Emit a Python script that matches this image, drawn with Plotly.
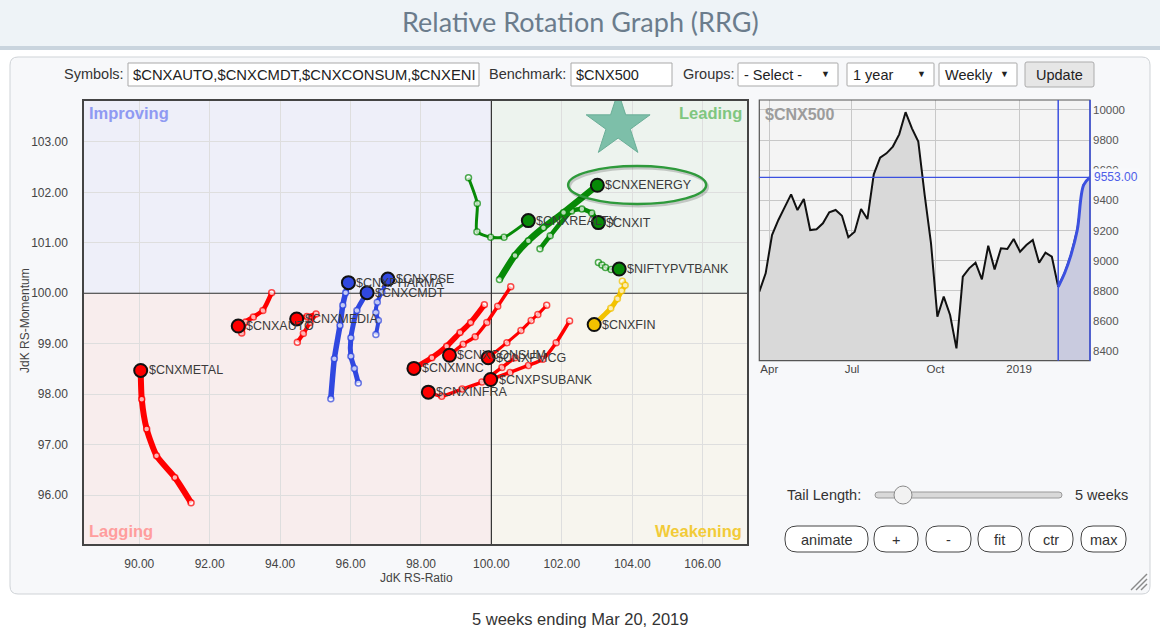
import plotly.graph_objects as go
import pandas as pd

W, H = 1160, 636
FONT = "Liberation Sans, Arial, sans-serif"

# ---------------- RRG data (oldest -> latest) ----------------
METAL_X = [91.47, 91.01, 90.49, 90.21, 90.07, 90.04]
METAL_Y = [95.85, 96.35, 96.78, 97.31, 97.90, 98.47]
AUTO_X = [93.76, 93.51, 93.24, 93.02, 92.91, 92.81]
AUTO_Y = [100.01, 99.66, 99.53, 99.43, 99.21, 99.35]
MEDIA_X = [94.49, 94.66, 94.85, 95.02, 94.76, 94.47]
MEDIA_Y = [99.03, 99.20, 99.42, 99.59, 99.54, 99.49]
PHARMA_X = [95.44, 95.54, 95.70, 95.78, 95.86, 95.94]
PHARMA_Y = [97.91, 98.70, 99.36, 99.76, 100.01, 100.21]
CMDT_X = [96.22, 96.11, 96.01, 96.01, 96.18, 96.47]
CMDT_Y = [98.22, 98.51, 98.75, 99.12, 99.66, 100.01]
PSE_X = [96.72, 96.79, 96.72, 96.76, 96.89, 97.06]
PSE_Y = [99.18, 99.46, 99.62, 99.82, 100.02, 100.28]
MNC_X = [99.80, 99.41, 99.11, 98.73, 98.31, 97.80]
MNC_Y = [99.77, 99.42, 99.22, 98.95, 98.72, 98.51]
CONSUM_X = [100.55, 100.18, 99.87, 99.54, 99.20, 98.81]
CONSUM_Y = [100.13, 99.74, 99.42, 99.14, 98.99, 98.77]
FMCG_X = [101.57, 101.32, 101.13, 100.84, 100.44, 99.91]
FMCG_Y = [99.76, 99.58, 99.46, 99.26, 99.02, 98.72]
PSUBANK_X = [102.22, 101.84, 101.46, 101.05, 100.53, 99.98]
PSUBANK_Y = [99.45, 99.02, 98.69, 98.57, 98.43, 98.29]
INFRA_X = [100.67, 100.30, 99.73, 99.17, 98.59, 98.21]
INFRA_Y = [98.72, 98.53, 98.24, 98.10, 97.96, 98.04]
ENERGY_X = [100.23, 100.67, 101.05, 101.48, 102.05, 103.01]
ENERGY_Y = [100.27, 100.75, 101.04, 101.30, 101.60, 102.14]
IT_X = [101.38, 101.67, 102.28, 102.57, 102.85, 103.04]
IT_Y = [100.88, 101.14, 101.63, 101.67, 101.59, 101.40]
REALTY_X = [99.35, 99.60, 99.59, 99.98, 100.36, 101.05]
REALTY_Y = [102.29, 101.78, 101.22, 101.11, 101.11, 101.44]
PVTBANK_X = [103.04, 103.14, 103.24, 103.40, 103.54, 103.63]
PVTBANK_Y = [100.61, 100.56, 100.51, 100.47, 100.47, 100.48]
FIN_X = [103.72, 103.80, 103.70, 103.58, 103.39, 102.92]
FIN_Y = [100.24, 100.16, 100.05, 99.89, 99.70, 99.38]

RED, BLUE, GREEN, YELLOW = "#ff0000", "#3048e0", "#078a07", "#f2c200"

SERIES = [
    ("$CNXMETAL", METAL_X, METAL_Y, RED, 6),
    ("$CNXAUTO", AUTO_X, AUTO_Y, RED, 4.5),
    ("$CNXMEDIA", MEDIA_X, MEDIA_Y, RED, 4),
    ("$CNXMNC", MNC_X, MNC_Y, RED, 5.5),
    ("$CNXCONSUM", CONSUM_X, CONSUM_Y, RED, 3.5),
    ("$CNXFMCG", FMCG_X, FMCG_Y, RED, 3),
    ("$CNXPSUBANK", PSUBANK_X, PSUBANK_Y, RED, 3.5),
    ("$CNXINFRA", INFRA_X, INFRA_Y, RED, 3.5),
    ("$CNXPHARMA", PHARMA_X, PHARMA_Y, BLUE, 5.5),
    ("$CNXCMDT", CMDT_X, CMDT_Y, BLUE, 5),
    ("$CNXPSE", PSE_X, PSE_Y, BLUE, 4),
    ("$CNXREALTY", REALTY_X, REALTY_Y, GREEN, 3),
    ("$CNXIT", IT_X, IT_Y, GREEN, 4.5),
    ("$CNXENERGY", ENERGY_X, ENERGY_Y, GREEN, 6.5),
    ("$NIFTYPVTBANK", PVTBANK_X, PVTBANK_Y, GREEN, 2.5),
    ("$CNXFIN", FIN_X, FIN_Y, YELLOW, 5),
]

# ---------------- Benchmark ($CNX500) weekly closes ----------------
CNX500 = [8794, 8916, 9170, 9270, 9355, 9440, 9336, 9409, 9203, 9208, 9248,
          9321, 9336, 9298, 9155, 9192, 9343, 9276, 9573, 9684, 9712, 9757,
          9838, 9985, 9878, 9790, 9436, 9115, 8628, 8761, 8639, 8418, 8894,
          8949, 8986, 8876, 9099, 8942, 9082, 9077, 9144, 9059, 9104, 9137,
          8986, 9053, 9026, 8827, 8916, 9037, 9203, 9502, 9553]
END_DATE = "2019-03-20"
TAIL_WEEKS = 5
MINI_TICKVALS = ["2018-04-01", "2018-07-01", "2018-10-01", "2019-01-01"]
MINI_TICKTEXT = ["Apr", "Jul", "Oct", "2019"]
MINI_YTICKS = [8400, 8600, 8800, 9000, 9200, 9400, 9600, 9800, 10000]

DATES = pd.date_range(end=END_DATE, periods=len(CNX500), freq="7D")

# ---------------- helpers (pixel -> paper) ----------------
def px(x):
    return x / W

def py(y):
    return 1 - y / H

def rrect(x0, y0, x1, y1, r):
    return (f"M {px(x0 + r)},{py(y0)} L {px(x1 - r)},{py(y0)} "
            f"Q {px(x1)},{py(y0)} {px(x1)},{py(y0 + r)} L {px(x1)},{py(y1 - r)} "
            f"Q {px(x1)},{py(y1)} {px(x1 - r)},{py(y1)} L {px(x0 + r)},{py(y1)} "
            f"Q {px(x0)},{py(y1)} {px(x0)},{py(y1 - r)} L {px(x0)},{py(y0 + r)} "
            f"Q {px(x0)},{py(y0)} {px(x0 + r)},{py(y0)} Z")

shapes = []
annots = []

def box(x0, y0, x1, y1, r, fill, line, lw=1, layer="below"):
    shapes.append(dict(type="path", path=rrect(x0, y0, x1, y1, r), xref="paper",
                       yref="paper", fillcolor=fill, line=dict(color=line, width=lw),
                       layer=layer))

def text(x, y, s, size=14, color="#333", xanchor="left", family=FONT, **kw):
    annots.append(dict(x=px(x), y=py(y), xref="paper", yref="paper", text=s,
                       showarrow=False, xanchor=xanchor, yanchor="middle",
                       font=dict(size=size, color=color, family=family), **kw))

# ---------------- page chrome ----------------
shapes.append(dict(type="rect", xref="paper", yref="paper", x0=0, x1=1,
                   y0=py(46), y1=1, fillcolor="#eef3f7", line=dict(width=0), layer="below"))
shapes.append(dict(type="rect", xref="paper", yref="paper", x0=0, x1=1,
                   y0=py(50), y1=py(46), fillcolor="#c9d4de", line=dict(width=0), layer="below"))
box(10, 57, 1150, 594, 8, "#f7f8fa", "#cfd3d7")
text(580, 22, "Relative Rotation Graph (RRG)", size=27, color="#6b7c8c",
     xanchor="center", family="Lato, Liberation Sans, sans-serif")
text(580, 619, "5 weeks ending Mar 20, 2019", size=16.5, color="#333", xanchor="center")

# controls row
text(62, 74, "Symbols:", size=14.5)
box(128, 63, 479, 86, 0, "#ffffff", "#a9a9a9")
text(131, 74.5, "$CNXAUTO,$CNXCMDT,$CNXCONSUM,$CNXENI", size=14.8, color="#222")
text(487, 74, "Benchmark:", size=14.5)
box(571, 63, 672, 86, 0, "#ffffff", "#a9a9a9")
text(574, 74.5, "$CNX500", size=14.5, color="#222")
text(681, 74, "Groups:", size=14.5)
for (x0, x1, lbl) in [(738, 838, "- Select -"), (847, 934, "1 year"), (939, 1017, "Weekly")]:
    box(x0, 63, x1, 86, 1, "#ffffff", "#a9a9a9")
    text(x0 + 4, 74.5, lbl, size=14.5, color="#222")
    text(x1 - 6, 73.5, "▼", size=9, color="#222", xanchor="right")
box(1025, 62, 1094, 87, 2, "#e6e6e6", "#acacac")
text(1059.5, 74.5, "Update", size=14.5, color="#222", xanchor="center")

# bottom-right controls
text(785, 495, "Tail Length:", size=14.5, color="#333")
box(875, 492, 1062, 498, 3, "#d9d9d9", "#9a9a9a")
shapes.append(dict(type="circle", xref="paper", yref="paper", x0=px(894), x1=px(912),
                   y0=py(504), y1=py(486), fillcolor="#f2f2f2",
                   line=dict(color="#8a8a8a", width=1), layer="above"))
text(1073, 495, "5 weeks", size=14.5, color="#333")
for (x0, x1, lbl) in [(785, 868, "animate"), (874, 918, "+"), (926, 971, "-"),
                      (978, 1022, "fit"), (1029, 1073, "ctr"), (1081, 1126, "max")]:
    box(x0, 526, x1, 552, 12, "#ffffff", "#444444", 1, layer="above")
    text((x0 + x1) / 2, 539.5, lbl, size=14.5, color="#333", xanchor="center")
for k in (0, 5, 10):
    shapes.append(dict(type="line", xref="paper", yref="paper", x0=px(1131 + k), y0=py(590),
                       x1=px(1147), y1=py(574 + k), line=dict(color="#8a8a8a", width=1.5)))

# ---------------- RRG plot ----------------
XR = [88.43, 107.26]
YR = [95.03, 103.81]
quads = [
    (XR[0], 100, 100, YR[1], "#eeeff9"),
    (100, XR[1], 100, YR[1], "#edf3ee"),
    (XR[0], 100, YR[0], 100, "#f8eded"),
    (100, XR[1], YR[0], 100, "#f7f5ee"),
]
for (x0, x1, y0, y1, c) in quads:
    shapes.append(dict(type="rect", xref="x", yref="y", x0=x0, x1=x1, y0=y0, y1=y1,
                       fillcolor=c, line=dict(width=0), layer="below"))
shapes.append(dict(type="line", xref="x", yref="y", x0=100, x1=100, y0=YR[0], y1=YR[1],
                   line=dict(color="#333", width=1.2), layer="between"))
shapes.append(dict(type="line", xref="x", yref="y", x0=XR[0], x1=XR[1], y0=100, y1=100,
                   line=dict(color="#333", width=1.2), layer="between"))

QLAB = dict(size=16.5, family=FONT)
for (xx, yy, s, c, xa, ya) in [(0.004, 0.997, "Improving", "#8f9af2", "left", "top"),
                               (0.996, 0.997, "Leading", "#80c680", "right", "top"),
                               (0.004, 0.005, "Lagging", "#ff9d9d", "left", "bottom"),
                               (0.996, 0.005, "Weakening", "#f2cb38", "right", "bottom")]:
    annots.append(dict(x=xx, y=yy, xref="x domain", yref="y domain", text=f"<b>{s}</b>",
                       showarrow=False, xanchor=xa, yanchor=ya,
                       font=dict(color=c, **QLAB)))

fig = go.Figure()

# star
fig.add_trace(go.Scatter(x=[103.6], y=[103.33], mode="markers", hoverinfo="skip",
                         marker=dict(symbol="star", size=48, color="#7dbfa9",
                                     line=dict(color="#6aae97", width=1)),
                         xaxis="x", yaxis="y", showlegend=False))

for (name, xs, ys, col, lw) in SERIES:
    fig.add_trace(go.Scatter(
        x=xs, y=ys, mode="lines+markers", hoverinfo="skip", showlegend=False,
        line=dict(color=col, width=lw, shape="spline", smoothing=0.6),
        marker=dict(size=[6] * (len(xs) - 1) + [0], color="#ffffff",
                    line=dict(color=col, width=1.5)),
        xaxis="x", yaxis="y"))
for (name, xs, ys, col, lw) in SERIES:
    fig.add_trace(go.Scatter(
        x=[xs[-1]], y=[ys[-1]], mode="markers", hoverinfo="skip", showlegend=False,
        marker=dict(size=13, color=col, line=dict(color="#111", width=2)),
        xaxis="x", yaxis="y"))
    annots.append(dict(x=xs[-1], y=ys[-1], xref="x", yref="y", text=name, showarrow=False,
                       xanchor="left", yanchor="middle", xshift=6,
                       font=dict(size=12.5, color="#3a3a3a", family=FONT)))

# highlight ellipse around energy
shapes.append(dict(type="circle", xref="x", yref="y", x0=102.22, x1=106.14, y0=101.73,
                   y1=102.48, line=dict(color="rgba(0,0,0,0.18)", width=3), layer="above"))
shapes.append(dict(type="circle", xref="x", yref="y", x0=102.18, x1=106.10, y0=101.77,
                   y1=102.52, line=dict(color="#2e9a3b", width=2.5), layer="above"))

text(416, 578, "JdK RS-Ratio", size=12, color="#444", xanchor="center")
annots.append(dict(x=px(25), y=py(321), xref="paper", yref="paper", text="JdK RS-Momentum",
                   showarrow=False, textangle=-90, xanchor="center", yanchor="middle",
                   font=dict(size=12, color="#444", family=FONT)))

# ---------------- mini benchmark chart ----------------
split = len(CNX500) - 1 - TAIL_WEEKS
shapes.append(dict(type="rect", xref="x2 domain", yref="y2 domain", x0=0, x1=1, y0=0, y1=1,
                   fillcolor="#f4f4f4", line=dict(width=0), layer="below"))
fig.add_trace(go.Scatter(x=DATES, y=CNX500, mode="lines", fill="tozeroy",
                         fillcolor="#d9d9d9", line=dict(color="#111", width=2),
                         hoverinfo="skip", showlegend=False, xaxis="x2", yaxis="y2"))
fig.add_trace(go.Scatter(x=DATES[split:], y=CNX500[split:], mode="lines", fill="tozeroy",
                         fillcolor="#c9cbdf", line=dict(color="#3b50e0", width=3,
                                                        shape="spline"),
                         hoverinfo="skip", showlegend=False, xaxis="x2", yaxis="y2"))
shapes.append(dict(type="rect", xref="x2 domain", yref="y2 domain", x0=0, x1=1, y0=0, y1=1,
                   line=dict(color="#555", width=1.2), layer="above"))
shapes.append(dict(type="line", xref="x2 domain", yref="y2 domain", x0=1, x1=1, y0=0, y1=1,
                   line=dict(color="#3b50e0", width=1.5), layer="above"))
shapes.append(dict(type="line", xref="x2", yref="y2 domain", x0=DATES[split], x1=DATES[split],
                   y0=0, y1=1, line=dict(color="#3b50e0", width=1.5), layer="above"))
shapes.append(dict(type="line", xref="x2 domain", yref="y2", x0=0, x1=1, y0=CNX500[-1],
                   y1=CNX500[-1], line=dict(color="#3b50e0", width=1.2), layer="above"))
annots.append(dict(x=px(1092), y=CNX500[-1], xref="paper", yref="y2",
                   text=f"{CNX500[-1]:.2f}", showarrow=False, xanchor="left",
                   yanchor="middle", bgcolor="#f8f9fb", borderpad=1,
                   font=dict(size=12, color="#4d5de8", family=FONT)))
annots.append(dict(x=0.01, y=0.985, xref="x2 domain", yref="y2 domain", text="<b>$CNX500</b>",
                   showarrow=False, xanchor="left", yanchor="top",
                   font=dict(size=16, color="#9c9c9c", family=FONT)))

fig.update_layout(
    width=W, height=H, margin=dict(l=0, r=0, t=0, b=0),
    paper_bgcolor="#ffffff", plot_bgcolor="rgba(0,0,0,0)",
    showlegend=False, shapes=shapes, annotations=annots,
    xaxis=dict(domain=[px(84), px(747)], range=XR, tick0=90, dtick=2, tickformat=".2f",
               showgrid=True, gridcolor="#dedede", zeroline=False, showline=True,
               linecolor="#444", linewidth=1.5, mirror=True, ticks="",
               ticklabelstandoff=8, tickfont=dict(size=12, color="#444", family=FONT),
               anchor="y", fixedrange=True),
    yaxis=dict(domain=[py(544), py(101)], range=YR, tick0=100, dtick=1, tickformat=".2f",
               showgrid=True, gridcolor="#dedede", zeroline=False, showline=True,
               linecolor="#444", linewidth=1.5, mirror=True, ticks="",
               ticklabelstandoff=12, tickfont=dict(size=12, color="#444", family=FONT),
               anchor="x", fixedrange=True),
    xaxis2=dict(domain=[px(759.3), px(1090)], range=[DATES[0], DATES[-1]], type="date",
                tickvals=MINI_TICKVALS, ticktext=MINI_TICKTEXT, showgrid=True,
                gridcolor="#c8c8c8", zeroline=False, showline=False, ticks="",
                tickfont=dict(size=11.5, color="#444", family=FONT), anchor="y2",
                fixedrange=True),
    yaxis2=dict(domain=[py(360.7), py(100)], range=[8336, 10066], side="right",
                tickvals=MINI_YTICKS, tickformat="d", showgrid=True, gridcolor="#c8c8c8",
                zeroline=False, showline=False, ticks="", ticklabelstandoff=2,
                tickfont=dict(size=11.5, color="#555", family=FONT), anchor="x2",
                fixedrange=True),
)

fig.write_html("out.html", post_script="document.body.style.margin='0';",
               config={"displayModeBar": False})
